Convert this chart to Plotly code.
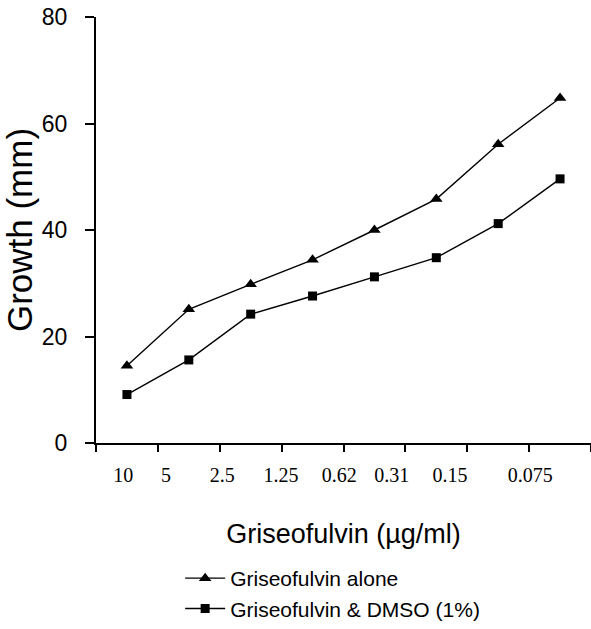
import plotly.graph_objects as go

concentrations = ["10", "5", "2.5", "1.25", "0.62", "0.31", "0.15", "0.075"]
category_index = [1, 2, 3, 4, 5, 6, 7, 8]
label_positions = [0.94, 1.63, 2.54, 3.49, 4.43, 5.28, 6.22, 7.52]
boundary_ticks = [0.5, 1.5, 2.5, 3.5, 4.5, 5.5, 6.5, 7.5, 8.5]

griseofulvin_alone = [14.5, 25.1, 29.8, 34.4, 40.0, 45.8, 56.1, 64.8]
griseofulvin_dmso = [9.1, 15.6, 24.2, 27.6, 31.2, 34.8, 41.2, 49.6]

fig = go.Figure()
fig.add_trace(go.Scatter(
    x=category_index, y=griseofulvin_alone, mode="lines+markers",
    name="Griseofulvin alone",
    line=dict(color="black", width=1.4),
    marker=dict(symbol="triangle-up", size=11, color="black"),
))
fig.add_trace(go.Scatter(
    x=category_index, y=griseofulvin_dmso, mode="lines+markers",
    name="Griseofulvin & DMSO (1%)",
    line=dict(color="black", width=1.4),
    marker=dict(symbol="square", size=9, color="black"),
))
# invisible trace to activate the label axis
fig.add_trace(go.Scatter(x=[0.5, 8.5], y=[0, 0], xaxis="x2", mode="markers",
                         marker=dict(opacity=0), showlegend=False, hoverinfo="skip"))

fig.update_layout(
    width=591, height=629,
    margin=dict(l=96, r=0, t=17, b=182),
    paper_bgcolor="white", plot_bgcolor="white",
    font=dict(family="Liberation Sans, Arial", color="black"),
    showlegend=True,
    legend=dict(x=0.170, y=-0.27, xanchor="left", yanchor="top",
                font=dict(size=21, family="Liberation Sans, Arial"),
                itemwidth=40, tracegroupgap=0, bgcolor="rgba(0,0,0,0)"),
    xaxis=dict(range=[0.5, 8.5], tickvals=boundary_ticks, ticktext=[""] * len(boundary_ticks),
               ticks="outside", ticklen=7, tickwidth=2, tickcolor="black", automargin=False,
               showline=True, linecolor="black", linewidth=2, showgrid=False, zeroline=False,
               title=dict(text="Griseofulvin (µg/ml)", font=dict(size=27), standoff=71)),
    xaxis2=dict(range=[0.5, 8.5], overlaying="x", anchor="y", side="bottom", automargin=False,
                tickvals=label_positions, ticktext=concentrations,
                ticks="", showline=False, showgrid=False, zeroline=False,
                ticklabelstandoff=18,
                tickfont=dict(family="Liberation Serif, Times New Roman", size=20)),
    yaxis=dict(range=[0, 80], tickvals=[0, 20, 40, 60, 80],
               ticks="outside", ticklen=9, tickwidth=2, tickcolor="black", automargin=False,
               showline=True, linecolor="black", linewidth=2, showgrid=False, zeroline=False,
               tickfont=dict(size=23), ticklabelstandoff=13, ticklabeloverflow="allow",
               title=dict(text="Growth (mm)", font=dict(size=35), standoff=16)),
)

fig.write_html("out.html", config={"displayModeBar": False},
               post_script="document.body.style.margin='0px';")
